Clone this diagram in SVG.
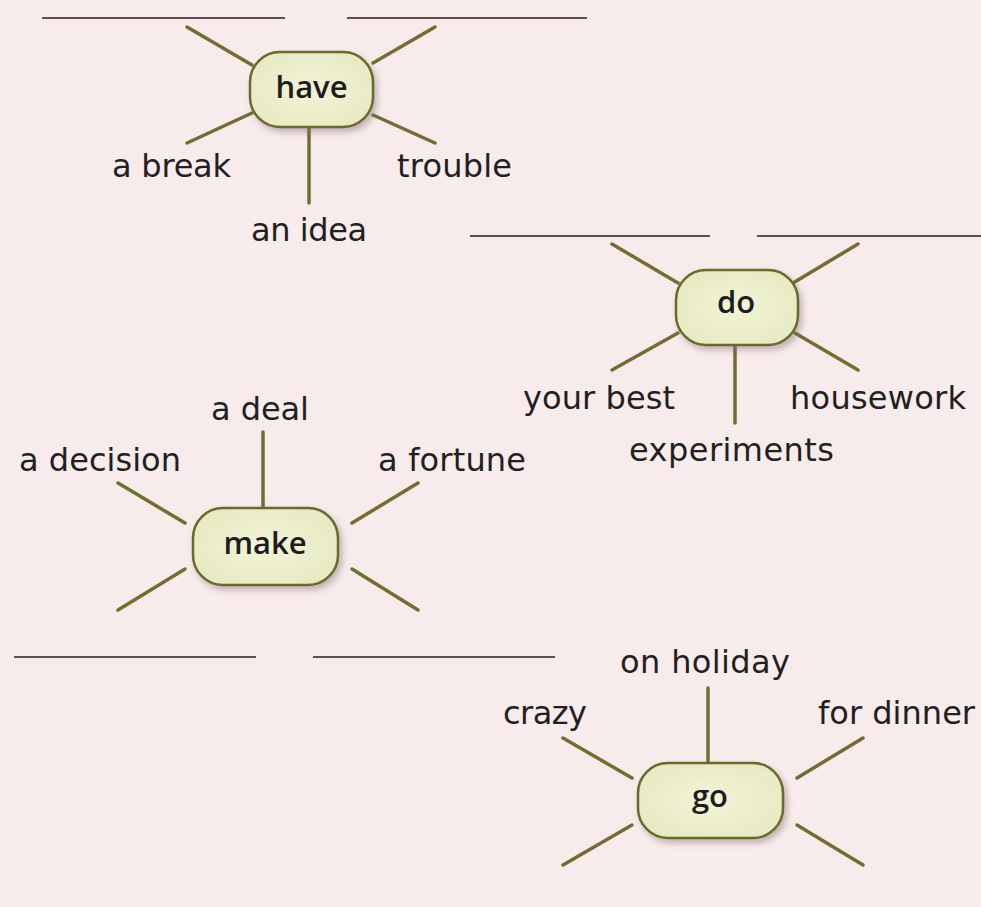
<svg xmlns="http://www.w3.org/2000/svg" width="981" height="907" viewBox="0 0 981 907">
  <style>
    .bg { fill: #f8ebec; }
    .node rect { fill: url(#nodeFill); stroke: #6b6a2c; stroke-width: 2.5; filter: url(#shadow); }
    .node text { font-family: "Open Sans", "DejaVu Sans", sans-serif; font-weight: 600; font-size: 31px; fill: #1e1c1c; text-anchor: middle; }
    .spoke { stroke: #716d33; stroke-width: 3.5; stroke-linecap: round; }
    .blank { stroke: #5e5050; stroke-width: 2; }
    .label { font-family: "DejaVu Sans", "Liberation Sans", sans-serif; font-size: 32px; fill: #231f20; }
  </style>
  <defs>
    <radialGradient id="nodeFill" cx="50%" cy="50%" r="60%">
      <stop offset="0%" stop-color="#f2f4d8"/>
      <stop offset="100%" stop-color="#e6e9c0"/>
    </radialGradient>
    <filter id="shadow" x="-20%" y="-20%" width="150%" height="160%">
      <feDropShadow dx="3" dy="4" stdDeviation="3" flood-color="#7a7070" flood-opacity="0.45"/>
    </filter>
  </defs>
  <rect class="bg" x="0" y="0" width="981" height="907"/>

  <g id="blanks">
    <line class="blank" x1="42" y1="18" x2="285" y2="18"/>
    <line class="blank" x1="347" y1="18" x2="587" y2="18"/>
    <line class="blank" x1="470" y1="236" x2="710" y2="236"/>
    <line class="blank" x1="757" y1="236" x2="981" y2="236"/>
    <line class="blank" x1="14" y1="657" x2="256" y2="657"/>
    <line class="blank" x1="313" y1="657" x2="555" y2="657"/>
  </g>

  <g id="connectors">
    <line class="spoke" x1="187" y1="27" x2="252" y2="65"/>
    <line class="spoke" x1="373" y1="63" x2="435" y2="27"/>
    <line class="spoke" x1="252" y1="113" x2="187" y2="143"/>
    <line class="spoke" x1="373" y1="115" x2="435" y2="143"/>
    <line class="spoke" x1="309" y1="127" x2="309" y2="203"/>

    <line class="spoke" x1="612" y1="244" x2="678" y2="283"/>
    <line class="spoke" x1="793" y1="283" x2="858" y2="244"/>
    <line class="spoke" x1="678" y1="333" x2="612" y2="370"/>
    <line class="spoke" x1="795" y1="333" x2="858" y2="370"/>
    <line class="spoke" x1="735" y1="345" x2="735" y2="423"/>

    <line class="spoke" x1="118" y1="483" x2="185" y2="523"/>
    <line class="spoke" x1="352" y1="523" x2="418" y2="483"/>
    <line class="spoke" x1="185" y1="569" x2="118" y2="610"/>
    <line class="spoke" x1="352" y1="569" x2="418" y2="610"/>
    <line class="spoke" x1="263" y1="432" x2="263" y2="508"/>

    <line class="spoke" x1="563" y1="738" x2="632" y2="778"/>
    <line class="spoke" x1="797" y1="778" x2="863" y2="738"/>
    <line class="spoke" x1="632" y1="825" x2="563" y2="865"/>
    <line class="spoke" x1="797" y1="825" x2="863" y2="865"/>
    <line class="spoke" x1="708" y1="688" x2="708" y2="763"/>
  </g>

  <g id="node-have" class="node">
    <rect x="250" y="52" width="123" height="75" rx="30" ry="30"/>
    <text x="311.5" y="98">have</text>
  </g>
  <g id="node-do" class="node">
    <rect x="676" y="270" width="122" height="75" rx="30" ry="30"/>
    <text x="736" y="313">do</text>
  </g>
  <g id="node-make" class="node">
    <rect x="193" y="508" width="145" height="77" rx="30" ry="30"/>
    <text x="265" y="554">make</text>
  </g>
  <g id="node-go" class="node">
    <rect x="638" y="763" width="145" height="75" rx="30" ry="30"/>
    <text x="710" y="807">go</text>
  </g>

  <g id="labels">
    <text class="label" x="112" y="177" textLength="119">a break</text>
    <text class="label" x="397" y="177" textLength="115">trouble</text>
    <text class="label" x="251" y="241" textLength="116">an idea</text>
    <text class="label" x="523" y="409" textLength="152">your best</text>
    <text class="label" x="790" y="409" textLength="176">housework</text>
    <text class="label" x="629" y="461" textLength="205">experiments</text>
    <text class="label" x="211" y="420" textLength="98">a deal</text>
    <text class="label" x="19" y="471" textLength="162">a decision</text>
    <text class="label" x="378" y="471" textLength="148">a fortune</text>
    <text class="label" x="620" y="673" textLength="170">on holiday</text>
    <text class="label" x="503" y="724" textLength="84">crazy</text>
    <text class="label" x="818" y="724" textLength="157">for dinner</text>
  </g>
</svg>
